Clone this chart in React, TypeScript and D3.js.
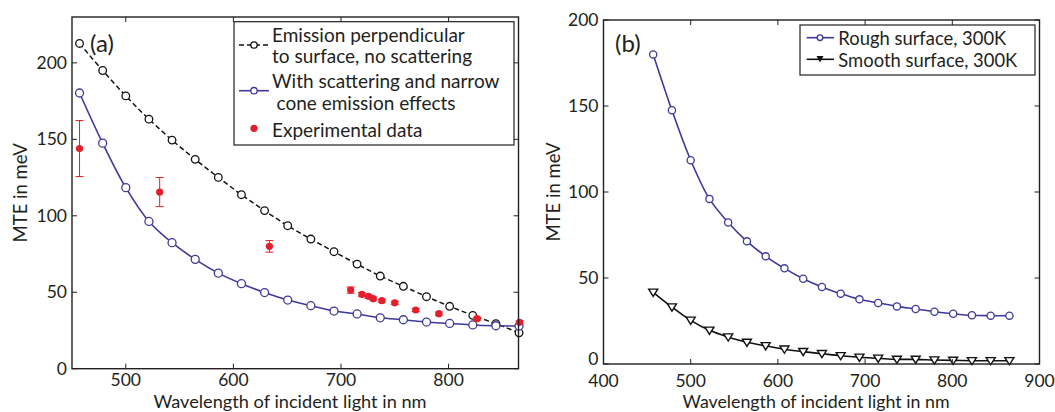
import React from "react";
import * as d3 from "d3";

const wavelengths = [457, 478.5, 500, 521.5, 543, 564.5, 586, 607.5, 629, 650.5, 672, 693.5, 715, 736.5, 758, 779.5, 801, 822.5, 844, 865.5];
const perpendicular = [212.7, 195, 178.4, 163.2, 149.5, 136.9, 125.1, 113.8, 103.4, 93.5, 84.8, 76.5, 68.4, 60.6, 53.9, 47.1, 40.8, 34.9, 29.4, 23.5];
const scattering = [180.3, 147.5, 118.4, 96.3, 82.4, 71.5, 62.5, 55.6, 49.8, 44.9, 41.2, 37.7, 35.8, 33.3, 32.0, 30.5, 29.6, 28.6, 28.1, 27.9];
const expWavelengths = [457, 531.5, 633.5, 709, 719.5, 725.5, 730, 738, 750, 769.5, 791, 826.5, 866];
const expValues = [144, 115.5, 80, 51.4, 48.6, 47.3, 45.8, 44.5, 43.1, 38.4, 36.0, 32.7, 30.3];
const expErrors = [18.3, 9.5, 3.8, 2, 1.2, 1.2, 1, 1, 1, 1, 1, 1, 1];
const rough = [180, 147.5, 118.5, 96, 82.3, 71.3, 62.6, 55.6, 49.6, 44.8, 40.9, 37.6, 35.5, 33.5, 32.0, 30.4, 29.2, 28.3, 28.1, 28.1];
const smooth = [41.7, 33.1, 25.4, 19.6, 15.7, 12.6, 10.6, 8.6, 7.2, 6.0, 4.8, 3.9, 3.3, 2.7, 2.7, 2.3, 2.1, 1.9, 1.9, 1.9];

const xTicksA = [500, 600, 700, 800];
const yTicksA = [0, 50, 100, 150, 200];
const xTicksB = [400, 500, 600, 700, 800, 900];
const yTicksB = [0, 50, 100, 150, 200];

const FONT = "Lato, 'Open Sans', sans-serif";
const TXT = "#231f20";
const BLUE = "#3d3a99";
const RED = "#e41e2b";

function Frame({ x, y, xt, yt, xLabelDy, zeroDy = 6 }: any) {
  const [x0, x1] = x.range();
  const [y0, y1] = y.range();
  const tl = 5;
  return (
    <g>
      <rect x={x0} y={y1} width={x1 - x0} height={y0 - y1} fill="none" stroke={TXT} strokeWidth={1.4} />
      {xt.map((t: number) => (
        <g key={"x" + t}>
          <line x1={x(t)} x2={x(t)} y1={y0} y2={y0 - tl} stroke={TXT} strokeWidth={1} />
          <line x1={x(t)} x2={x(t)} y1={y1} y2={y1 + tl} stroke={TXT} strokeWidth={1} />
          <text x={x(t)} y={y0 + xLabelDy} textAnchor="middle" fontSize={17.5} fill={TXT} fontFamily={FONT}>{t}</text>
        </g>
      ))}
      {yt.map((t: number) => (
        <g key={"y" + t}>
          <line x1={x0} x2={x0 + tl} y1={y(t)} y2={y(t)} stroke={TXT} strokeWidth={1} />
          <line x1={x1} x2={x1 - tl} y1={y(t)} y2={y(t)} stroke={TXT} strokeWidth={1} />
          <text x={x0 - 5} y={y(t) + (t === 0 ? zeroDy : 6)} textAnchor="end" fontSize={17.5} fill={TXT} fontFamily={FONT}>{t}</text>
        </g>
      ))}
    </g>
  );
}

function Circle({ cx, cy, color, r = 4 }: any) {
  return <circle cx={cx} cy={cy} r={r} fill="white" stroke={color} strokeWidth={1.3} />;
}

function Tri({ cx, cy, s = 4.5 }: any) {
  const p = `${cx - s},${cy - s * 0.7} ${cx + s},${cy - s * 0.7} ${cx},${cy + s * 0.9}`;
  return <polygon points={p} fill="white" stroke="#111" strokeWidth={1.4} />;
}

export default function App() {
  const xA = d3.scaleLinear().domain([450, 865]).range([72, 518.5]);
  const yA = d3.scaleLinear().domain([0, 230]).range([368.7, 17]);
  const xB = d3.scaleLinear().domain([400, 900]).range([603.5, 1039.5]);
  const yB = d3.scaleLinear().domain([0, 200]).range([364, 20]);

  const lineA = (vals: number[]) =>
    d3.line<number>().x((_, i) => xA(wavelengths[i])).y((d) => yA(d)).curve(d3.curveCatmullRom)(vals) || "";
  const lineB = (vals: number[]) =>
    d3.line<number>().x((_, i) => xB(wavelengths[i])).y((d) => yB(d)).curve(d3.curveCatmullRom)(vals) || "";

  return (
    <div style={{ position: "absolute", left: 0, top: 0 }}>
      <svg width={1055} height={412} style={{ display: "block", background: "white" }}>
        {/* Panel (a) */}
        <path d={lineA(perpendicular)} fill="none" stroke="#111" strokeWidth={1.5} strokeDasharray="5,3" />
        {perpendicular.map((v, i) => (
          <Circle key={"p" + i} cx={xA(wavelengths[i])} cy={yA(v)} color="#111" r={3.8} />
        ))}
        <path d={lineA(scattering)} fill="none" stroke={BLUE} strokeWidth={1.6} />
        {scattering.map((v, i) => (
          <Circle key={"s" + i} cx={xA(wavelengths[i])} cy={yA(v)} color={BLUE} r={4} />
        ))}
        {expValues.map((v, i) => {
          const cx = xA(expWavelengths[i]);
          const e = expErrors[i];
          return (
            <g key={"e" + i}>
              <line x1={cx} x2={cx} y1={yA(v - e)} y2={yA(v + e)} stroke={RED} strokeWidth={1} />
              <line x1={cx - 4} x2={cx + 4} y1={yA(v - e)} y2={yA(v - e)} stroke={RED} strokeWidth={1} />
              <line x1={cx - 4} x2={cx + 4} y1={yA(v + e)} y2={yA(v + e)} stroke={RED} strokeWidth={1} />
              <circle cx={cx} cy={yA(v)} r={3.6} fill={RED} />
            </g>
          );
        })}
        <Frame x={xA} y={yA} xt={xTicksA} yt={yTicksA} xLabelDy={17.3} />
        <text x={90} y={52} fontSize={24} fill={TXT} fontFamily={FONT}>(a)</text>
        <text x={290} y={407.5} textAnchor="middle" fontSize={18.2} fill={TXT} fontFamily={FONT}>Wavelength of incident light in nm</text>
        <text transform={`translate(27,${(17 + 368.7) / 2}) rotate(-90)`} textAnchor="middle" fontSize={18.5} fill={TXT} fontFamily={FONT}>MTE in meV</text>

        {/* Legend (a) */}
        <rect x={234} y={21.7} width={280} height={123.3} fill="white" stroke={TXT} strokeWidth={1.2} />
        <line x1={239} x2={269} y1={45} y2={45} stroke="#111" strokeWidth={1.5} strokeDasharray="5,3" />
        <Circle cx={254} cy={45} color="#111" r={3.2} />
        <line x1={239} x2={269} y1={90.7} y2={90.7} stroke={BLUE} strokeWidth={1.6} />
        <Circle cx={254} cy={90.7} color={BLUE} r={3.2} />
        <circle cx={254} cy={128.3} r={3.6} fill={RED} />
        <g fontSize={19} fill={TXT} fontFamily={FONT}>
          <text x={272} y={41.7}>Emission perpendicular</text>
          <text x={272} y={63.3}>to surface, no scattering</text>
          <text x={272} y={87.7}>With scattering and narrow</text>
          <text x={276.5} y={110}>cone emission effects</text>
          <text x={272} y={137.3}>Experimental data</text>
        </g>

        {/* Panel (b) */}
        <path d={lineB(rough)} fill="none" stroke={BLUE} strokeWidth={1.6} />
        {rough.map((v, i) => (
          <Circle key={"r" + i} cx={xB(wavelengths[i])} cy={yB(v)} color={BLUE} r={3.6} />
        ))}
        <path d={lineB(smooth)} fill="none" stroke="#111" strokeWidth={1.6} />
        {smooth.map((v, i) => (
          <Tri key={"t" + i} cx={xB(wavelengths[i])} cy={yB(v)} />
        ))}
        <Frame x={xB} y={yB} xt={xTicksB} yt={yTicksB} xLabelDy={22.5} zeroDy={1} />
        <text x={615} y={52} fontSize={24} fill={TXT} fontFamily={FONT}>(b)</text>
        <text x={816} y={408} textAnchor="middle" fontSize={17.8} fill={TXT} fontFamily={FONT}>Wavelength of incident light in nm</text>
        <text transform={`translate(560,${(20 + 364) / 2}) rotate(-90)`} textAnchor="middle" fontSize={18.5} fill={TXT} fontFamily={FONT}>MTE in meV</text>

        {/* Legend (b) */}
        <rect x={800} y={25} width={235} height={50} fill="white" stroke={TXT} strokeWidth={1.2} />
        <line x1={806.7} x2={834} y1={37.7} y2={37.7} stroke={BLUE} strokeWidth={1.6} />
        <Circle cx={820} cy={37.7} color={BLUE} r={2.8} />
        <line x1={806.7} x2={834} y1={59.3} y2={59.3} stroke="#111" strokeWidth={1.6} />
        <polygon points="816.5,56 823.5,56 820,62.5" fill="#111" />
        <g fontSize={18.4} fill={TXT} fontFamily={FONT}>
          <text x={838.3} y={44.5}>Rough surface, 300K</text>
          <text x={838.3} y={66.5}>Smooth surface, 300K</text>
        </g>
      </svg>
    </div>
  );
}
